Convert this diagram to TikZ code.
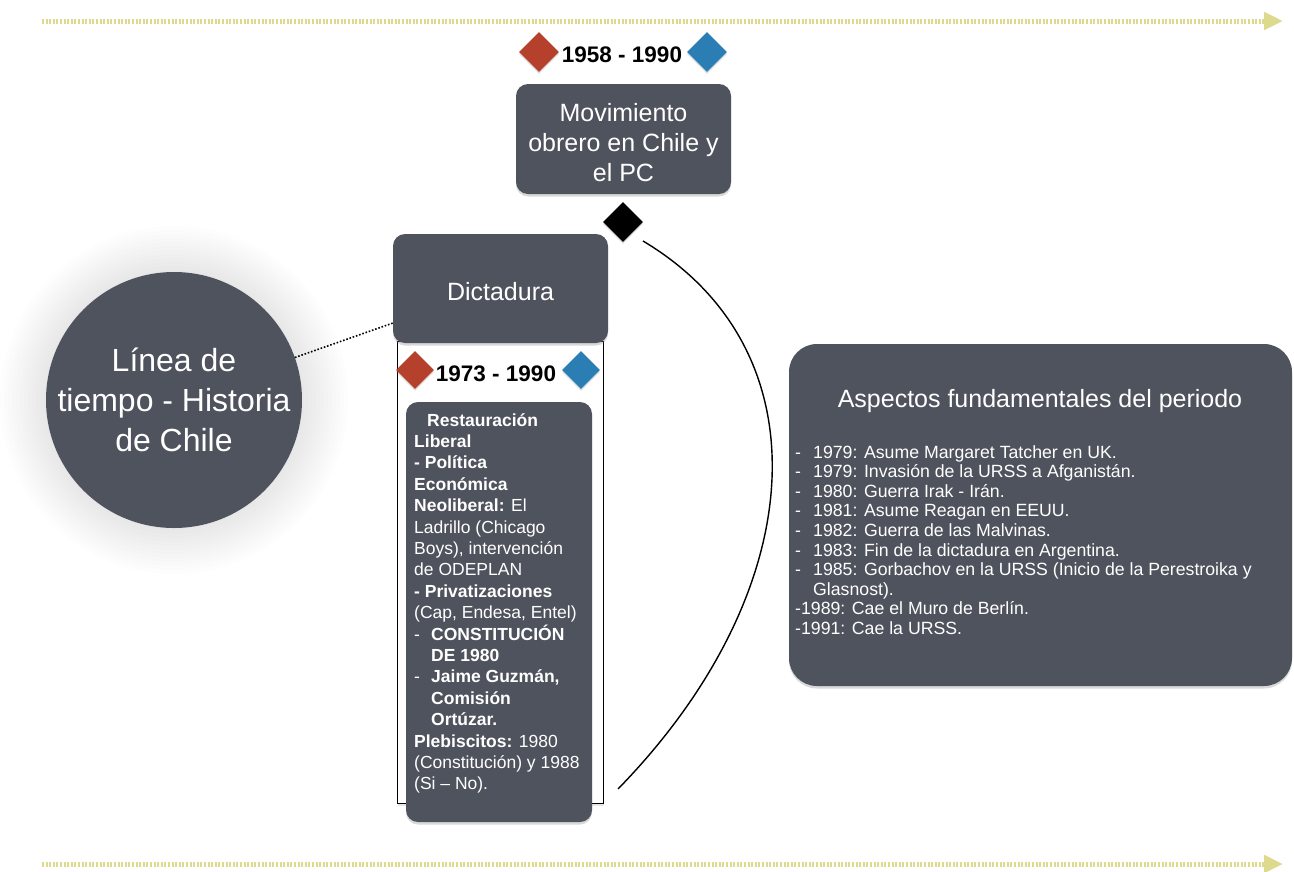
\documentclass[tikz,border=0pt]{standalone}
\usepackage{fontspec}
\setmainfont{Liberation Sans}
\usetikzlibrary{shapes.geometric,shadows,arrows.meta}
\definecolor{boxfill}{HTML}{4F535D}
\definecolor{dred}{HTML}{B5412D}
\definecolor{dblue}{HTML}{2B7EB3}
\definecolor{khaki}{HTML}{DDD98D}
\tikzset{
  darkbox/.style={fill=boxfill, rounded corners=12pt, text=white, align=center, inner sep=0pt,
    drop shadow={opacity=0.3, shadow xshift=0pt, shadow yshift=-2.5pt}},
  boxtext/.style={text=white, align=center, inner sep=0pt, font=\fontsize{25}{30}\selectfont},
  gem/.style={diamond, aspect=1, inner sep=0pt, minimum width=#1, minimum height=#1,
    drop shadow={opacity=0.25, shadow xshift=0pt, shadow yshift=-2pt}},
  gem/.default=40pt,
  datelabel/.style={font=\fontsize{22.5}{26}\selectfont\bfseries, inner sep=0pt},
  listtext/.style={text=white, align=left, inner sep=0pt},
  timeline/.style={draw=khaki, line width=5pt, dash pattern=on 2pt off 1.6pt,
    -{Triangle[length=19pt,width=17pt]}},
  link/.style={draw=black, line width=1.6pt, dash pattern=on 1.6pt off 1.8pt},
  curve/.style={draw=black, line width=1.4pt},
}
\begin{document}
\begin{tikzpicture}[x=1pt,y=-1pt]
\useasboundingbox (0,0) rectangle (1294,871);
% timelines
\coordinate (t0) at (42,21);
\coordinate (t1) at (1283,21);
\coordinate (u0) at (42,864);
\coordinate (u1) at (1283,864);
\draw[timeline] (t0) -- (t1);
\draw[timeline] (u0) -- (u1);
% glow around circle
\foreach \r in {130,134,...,174} \fill[black, opacity=0.007] (174,400) circle[radius=\r pt];
\node[circle, fill=boxfill, minimum size=256pt, inner sep=0pt, text=white, align=center,
  font=\fontsize{32}{40}\selectfont] (circ) at (174,400) {Línea de\\tiempo - Historia\\de Chile};
% top group
\node[gem, fill=dred] (r1) at (539,52) {};
\node[gem, fill=dblue] (b1) at (707,52) {};
\node[datelabel] (d1) at (622,55) {1958 - 1990};
\node[darkbox, minimum width=215pt, minimum height=110pt] (mov) at (623.5,139) {};
\node[boxtext] (movt) at ([yshift=-4pt]mov.center) {Movimiento\\obrero en Chile y\\el PC};
\node[gem, fill=black] (blk) at (623,222) {};
% dictadura frame
\node[draw=black, line width=1.3pt, fill=white, minimum width=206pt, minimum height=462pt,
  anchor=north west, inner sep=0pt,
  drop shadow={opacity=0.2, shadow xshift=0pt, shadow yshift=-2pt}] (frame) at (397,341) {};
\node[darkbox, minimum width=215pt, minimum height=109pt] (dict) at (500.5,288.5) {};
\node[boxtext] (dictt) at ([yshift=-3pt]dict.center) {Dictadura};
\node[gem=38pt, fill=dred] (r2) at (415,370) {};
\node[gem=38pt, fill=dblue] (b2) at (581,370) {};
\node[datelabel] (d2) at (496,374) {1973 - 1990};
\node[darkbox, minimum width=186pt, minimum height=420pt] (dbox) at (499,612) {};
\node[listtext, anchor=north west, font=\fontsize{17.5}{21.4}\selectfont] (dtext) at (414,413) {%
\hspace*{13pt}\textbf{Restauración}\\
\textbf{Liberal}\\
\textbf{- Política}\\
\textbf{Económica}\\
\textbf{Neoliberal:} El\\
Ladrillo (Chicago\\
Boys), intervención\\
de ODEPLAN\\
\textbf{- Privatizaciones}\\
(Cap, Endesa, Entel)\\
\makebox[17pt][l]{-}\textbf{CONSTITUCIÓN}\\
\hspace*{17pt}\textbf{DE 1980}\\
\makebox[17pt][l]{-}\textbf{Jaime Guzmán,}\\
\hspace*{17pt}\textbf{Comisión}\\
\hspace*{17pt}\textbf{Ortúzar.}\\
\textbf{Plebiscitos:} 1980\\
(Constitución) y 1988\\
(Si – No).};
% aspectos box
\node[darkbox, rounded corners=28pt, minimum width=503pt, minimum height=342pt] (asp) at (1040.5,515) {};
\node[boxtext] (atitle) at (1040,401) {Aspectos fundamentales del periodo};
\node[listtext, anchor=north west, font=\fontsize{17.7}{19.6}\selectfont] (alist) at (795,445) {%
\makebox[18pt][l]{-}1979: Asume Margaret Tatcher en UK.\\
\makebox[18pt][l]{-}1979: Invasión de la URSS a Afganistán.\\
\makebox[18pt][l]{-}1980: Guerra Irak - Irán.\\
\makebox[18pt][l]{-}1981: Asume Reagan en EEUU.\\
\makebox[18pt][l]{-}1982: Guerra de las Malvinas.\\
\makebox[18pt][l]{-}1983: Fin de la dictadura en Argentina.\\
\makebox[18pt][l]{-}1985: Gorbachov en la URSS (Inicio de la Perestroika y\\
\hspace*{18pt}Glasnost).\\
-1989: Cae el Muro de Berlín.\\
-1991: Cae la URSS.};
% connectors
\coordinate (dl) at (393,323);
\draw[link] (circ) -- (dl);
\coordinate (arcA) at (643,241);
\coordinate (arcB) at (618,789);
\draw[curve] (arcA) .. controls (826,350) and (812,590) .. (arcB);
\end{tikzpicture}
\end{document}
